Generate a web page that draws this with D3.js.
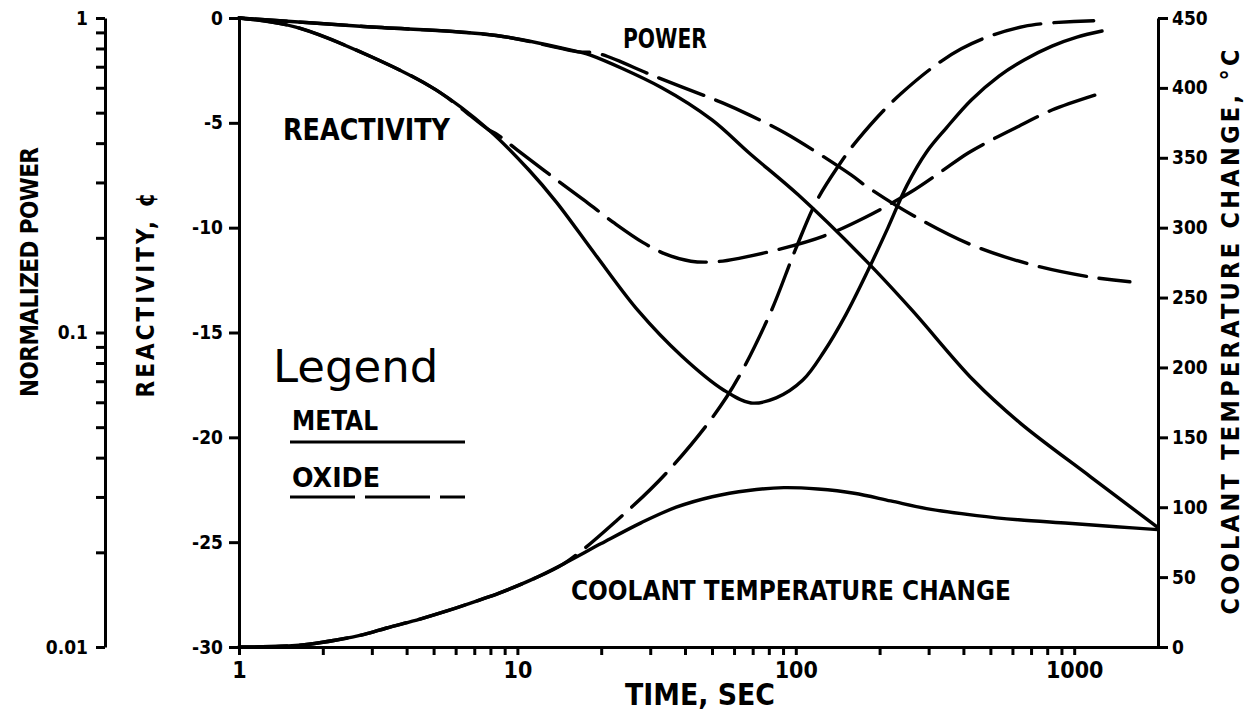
<!DOCTYPE html>
<html><head><meta charset="utf-8">
<script src="https://cdn.jsdelivr.net/npm/d3@7"></script>
<style>body{margin:0;background:#fff} svg{display:block;background:#fff}</style>
</head><body><svg id="c" width="1249" height="711"></svg>
<script>
// ---------- tick values ----------
const timeLabelTicks = [1, 10, 100, 1000];
const reactivityTicks = [0, -5, -10, -15, -20, -25, -30];
const temperatureTicks = [0, 50, 100, 150, 200, 250, 300, 350, 400, 450];
const powerLabelTicks = [1, 0.1, 0.01];

// ---------- series: [time (s), value] ----------
const powerMetal = [[1,1],[2.8,0.94],[8.4,0.88],[16.6,0.78],[18.2,0.763],[33,0.60],[50,0.474],[68,0.372],[102,0.274],[180,0.168],[261,0.118],[434,0.0706],[640,0.0515],[1148,0.0347],[1995,0.024]];
const powerOxide = [[1,1],[2.8,0.94],[8.4,0.88],[16.6,0.78],[19.2,0.774],[31.6,0.649],[54.6,0.537],[68,0.492],[91.5,0.431],[158,0.317],[177,0.294],[263,0.236],[427,0.19],[708,0.164],[1148,0.150],[1585,0.145]];

const reactivityMetal = [[1,0],[1.6,-0.43],[3.0,-1.86],[5.1,-3.43],[7.9,-5.34],[11.0,-7.25],[13.8,-8.78],[19.1,-11.30],[27.2,-13.97],[38.9,-16.12],[55,-17.74],[69,-18.36],[85,-18.12],[106,-17.27],[126,-15.93],[151,-14.17],[182,-12.02],[214,-10.02],[251,-7.97],[295,-6.39],[347,-5.25],[427,-3.91],[537,-2.77],[661,-2.0],[832,-1.34],[1023,-0.91],[1259,-0.62]];
const reactivityOxide = [[1,0],[1.6,-0.43],[3.0,-1.86],[5.1,-3.43],[7.9,-5.34],[8.4,-5.53],[10,-6.3],[13.0,-7.45],[17.6,-8.75],[22.4,-9.8],[28.2,-10.7],[33.9,-11.25],[42,-11.6],[52,-11.62],[63.1,-11.45],[89.1,-11.0],[126,-10.4],[178,-9.5],[259,-8.30],[331,-7.35],[416,-6.44],[513,-5.77],[624,-5.20],[832,-4.39],[1219,-3.63]];

const temperatureMetal = [[1,0],[1.41,0.5],[1.78,2],[2.24,5],[2.82,9],[3.39,13.6],[4.47,20],[5.62,26],[7.3,33.6],[8.6,38.6],[11.2,48],[14.8,60],[20,74],[27.9,89],[37.2,100],[50.1,107.5],[67.6,112],[90.6,114],[120,113],[162,110],[219,104.5],[295,99],[447,94],[631,91],[955,88.5],[1413,86],[1995,84]];
const temperatureOxide = [[1,0],[1.41,0.5],[1.78,2],[2.24,5],[2.82,9],[3.39,13.6],[4.47,20],[5.62,26],[7.3,33.6],[8.6,38.6],[11.2,48],[14.8,60],[22.9,91],[35.2,127],[56.5,179],[79.4,235],[100,285],[118,318],[141,343],[167,363],[239,396],[393,428],[661,444],[1175,448]];

// ---------- layout ----------
const svg = d3.select("#c");
const FONT = "'DejaVu Sans Condensed','Liberation Sans Narrow',sans-serif";
const X0 = 239, X1 = 1158, YT = 18, YB = 647, XP = 105;

const x = d3.scaleLog().domain([1, 2000]).range([X0, X1]);
const yR = d3.scaleLinear().domain([-30, 0]).range([YB, YT]);
const yT = d3.scaleLinear().domain([0, 450]).range([YB, YT]);
const yP = d3.scaleLog().domain([0.01, 1]).range([YB, YT]);

function styleAxis(g, fs) {
  g.select(".domain").attr("stroke", "#000").attr("stroke-width", 3);
  g.selectAll(".tick line").attr("stroke", "#000").attr("stroke-width", 3);
  g.selectAll(".tick text").attr("fill", "#000").attr("font-family", FONT)
    .attr("font-weight", "bold").attr("font-size", fs);
}

// x axis (log time)
const xTickVals = [];
for (let k = 0; k < 4; k++) for (let m = 1; m <= 9; m++) { const v = m * Math.pow(10, k); if (v < 2000) xTickVals.push(v); }
const gx = svg.append("g").attr("transform", `translate(0,${YB})`)
  .call(d3.axisBottom(x).tickValues(xTickVals).tickSize(8).tickSizeOuter(0).tickPadding(7)
    .tickFormat(d => timeLabelTicks.includes(d) ? String(d) : ""));
styleAxis(gx, 23);

// reactivity axis (left)
const gR = svg.append("g").attr("transform", `translate(${X0},0)`)
  .call(d3.axisLeft(yR).tickValues(reactivityTicks).tickSize(10).tickSizeOuter(0).tickPadding(6)
    .tickFormat(d => d === 0 ? "0" : "-" + Math.abs(d)));
styleAxis(gR, 19);

// temperature axis (right)
const gT = svg.append("g").attr("transform", `translate(${X1},0)`)
  .call(d3.axisRight(yT).tickValues(temperatureTicks).tickSize(10).tickSizeOuter(0).tickPadding(4)
    .tickFormat(d => String(d)));
styleAxis(gT, 19);

// normalized power axis (far left, log)
const pTickVals = [];
for (let k = -2; k < 0; k++) for (let m = 1; m <= 9; m++) pTickVals.push(m * Math.pow(10, k));
pTickVals.push(1);
const gP = svg.append("g").attr("transform", `translate(${XP},0)`)
  .call(d3.axisLeft(yP).tickValues(pTickVals).tickSize(9).tickSizeOuter(0).tickPadding(8)
    .tickFormat(d => powerLabelTicks.some(v => Math.abs(v - d) < 1e-9) ? String(+d.toPrecision(3)) : ""));
styleAxis(gP, 19);

// ---------- curves ----------
function drawCurve(data, yScale, dashed) {
  const line = d3.line().x(d => x(d[0])).y(d => yScale(d[1])).curve(d3.curveCatmullRom.alpha(0.5));
  svg.append("path").datum(data).attr("d", line).attr("fill", "none")
    .attr("stroke", "#000").attr("stroke-width", 3.4).attr("stroke-linecap", "round")
    .attr("stroke-dasharray", dashed ? "48,13" : null);
}
drawCurve(powerOxide, yP, true);
drawCurve(reactivityOxide, yR, true);
drawCurve(temperatureOxide, yT, true);
drawCurve(powerMetal, yP, false);
drawCurve(reactivityMetal, yR, false);
drawCurve(temperatureMetal, yT, false);

// ---------- texts ----------
function label(txt, px, py, fs, len, opts = {}) {
  const t = svg.append("text").attr("x", px).attr("y", py).text(txt)
    .attr("font-family", opts.family || FONT).attr("font-weight", opts.weight || "bold")
    .attr("font-size", fs).attr("fill", "#000");
  if (len) t.attr("textLength", len).attr("lengthAdjust", "spacingAndGlyphs");
  if (opts.anchor) t.attr("text-anchor", opts.anchor);
  return t;
}
label("POWER", 623, 48, 27, 84);
label("REACTIVITY", 283, 140, 30, 167);
label("COOLANT TEMPERATURE CHANGE", 571, 600, 27, 440);
label("TIME, SEC", 625, 705, 30, 150);

function vlabel(txt, cx, cy, fs, len) {
  svg.append("text").attr("transform", `translate(${cx},${cy}) rotate(-90)`)
    .attr("text-anchor", "middle").attr("dy", "0.36em").text(txt)
    .attr("font-family", FONT).attr("font-weight", "bold").attr("font-size", fs)
    .attr("fill", "#000").attr("textLength", len).attr("lengthAdjust", "spacing");
}
vlabel("NORMALIZED POWER", 29, 272, 24, 250);
vlabel("REACTIVITY, ¢", 145, 295, 24, 205);
vlabel("COOLANT TEMPERATURE CHANGE, °C", 1230, 332, 25, 565);

// ---------- legend ----------
label("Legend", 273, 382, 45, null, {family: "'DejaVu Sans',sans-serif", weight: "normal"});
label("METAL", 292, 430, 27, 86);
label("OXIDE", 292, 487, 27, 88);
svg.append("line").attr("x1", 290).attr("x2", 465).attr("y1", 442).attr("y2", 442)
  .attr("stroke", "#000").attr("stroke-width", 3.2);
svg.append("line").attr("x1", 290).attr("x2", 465).attr("y1", 497).attr("y2", 497)
  .attr("stroke", "#000").attr("stroke-width", 3.2).attr("stroke-dasharray", "65,10");
</script></body></html>
